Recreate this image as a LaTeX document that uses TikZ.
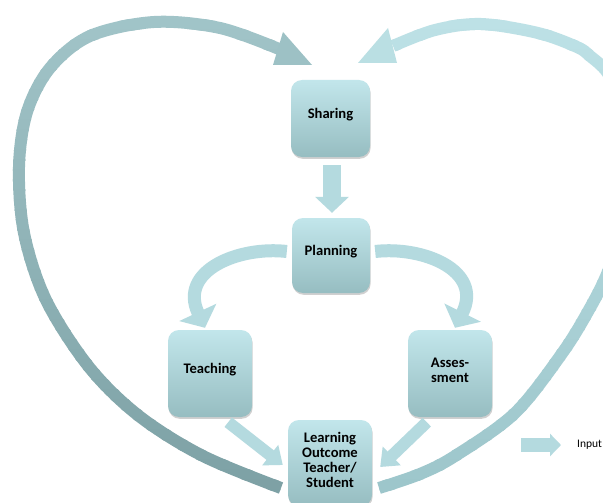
\documentclass[tikz,border=0pt]{standalone}
\usepackage{fontspec}
\setmainfont{Carlito}
\usetikzlibrary{arrows.meta,calc,shadows}

\definecolor{boxtop}{RGB}{194,230,235}
\definecolor{boxbot}{RGB}{150,189,193}
\definecolor{flow}{RGB}{180,218,223}
\definecolor{lefttop}{RGB}{162,197,201}
\definecolor{leftbot}{RGB}{124,160,164}
\definecolor{righttop}{RGB}{190,226,231}
\definecolor{rightbot}{RGB}{156,197,202}

\tikzset{
  stage/.style={rounded corners=11pt, top color=boxtop, bottom color=boxbot, draw=none,
    drop shadow={shadow xshift=0.6pt, shadow yshift=-1.8pt, opacity=0.3, fill=black!60}},
  stagetext/.style={align=center, font=\bfseries\fontsize{14.6}{15}\selectfont,
    text=black, inner sep=0pt, yshift=3.5pt},
  flowarrow/.style={draw=flow, line width=#1},
  band/.style={line width=12pt}
}

\begin{document}
\begin{tikzpicture}[x=1pt, y=-1pt]
\useasboundingbox (0,0) rectangle (603,503);
\fill[white] (0,0) rectangle (603,503);

% the two halves of the heart
\path[save path=\leftband] plot[smooth, tension=0.55] coordinates {
  (281,488) (203,456) (139,416) (89,367) (46,300) (24,233) (19,167)
  (27,112) (50,68) (90,36) (154,22) (220,28) (279,49)};
\path[save path=\rightband] plot[smooth, tension=0.55] coordinates {
  (379,488) (420,474) (455,456) (515,413) (563,352) (590,308) (607,274)
  (621,234) (630,185) (631,140) (623,102) (607,72) (590,56) (577,47)
  (538,33) (481,24) (435,30) (393,46)};

% vertical colour fade of the bands, strip by strip
\foreach \i in {0,...,50}{
  \pgfmathtruncatemacro\p{2*\i}
  \begin{scope}
    \clip (0,{10*\i-0.6}) rectangle (603,{10*\i+10.6});
    \path[use path=\leftband, draw=leftbot!\p!lefttop, band];
    \path[use path=\rightband, draw=rightbot!\p!righttop, band];
  \end{scope}
}
\fill[lefttop!88!leftbot] (283,32) -- (273,65) -- (312,65) -- cycle;
\fill[righttop!88!rightbot] (388,28) -- (358,63) -- (397,63) -- cycle;

% stages
\node[stage, minimum width=79pt, minimum height=77pt,
  label={[stagetext]center:Sharing}] (sharing) at (330.5,118.5) {};
\node[stage, minimum width=78pt, minimum height=75pt,
  label={[stagetext]center:Planning}] (planning) at (331,255.5) {};
\node[stage, minimum width=84pt, minimum height=87pt,
  label={[stagetext]center:Teaching}] (teaching) at (210,373.5) {};
\node[stage, minimum width=84pt, minimum height=87pt,
  label={[stagetext]center:Asses-\\sment}] (assessment) at (450,373.5) {};
\node[stage, minimum width=84pt, minimum height=86pt,
  label={[stagetext]center:Learning\\Outcome\\Teacher/\\Student}] (learning) at (330,463) {};

% flow between stages
\draw[flowarrow=18pt, -{Triangle[length=16pt,width=33pt]}]
  ($(sharing.south)+(1.5,8)$) -- ($(planning.north)+(1,-5)$);
\draw[flowarrow=13pt, -{Triangle[length=17pt,width=40pt]}]
  ($(planning.west)+(-5,-4)$) .. controls (240,246) and (178,270) .. ($(teaching.north)+(-5,-2)$);
\draw[flowarrow=13pt, -{Triangle[length=17pt,width=40pt]}]
  ($(planning.east)+(5,-4)$) .. controls (422,246) and (484,270) .. ($(assessment.north)+(5,-2)$);
\draw[flowarrow=12pt, -{Triangle[length=16pt,width=25pt]}]
  ($(teaching.south east)+(-24,5)$) -- ($(learning.west)+(-5,2)$);
\draw[flowarrow=12pt, -{Triangle[length=16pt,width=25pt]}]
  ($(assessment.south west)+(19,5)$) -- ($(learning.east)+(8,4)$);

% legend
\node[font=\fontsize{11.5}{13}\selectfont, anchor=west, inner sep=0pt] (input) at (577,445) {Input};
\coordinate (inputtail) at (521,445);
\draw[flowarrow=14pt, -{Triangle[length=11pt,width=22pt]}]
  (inputtail) -- ($(input.west)+(-16,0)$);
\end{tikzpicture}
\end{document}
